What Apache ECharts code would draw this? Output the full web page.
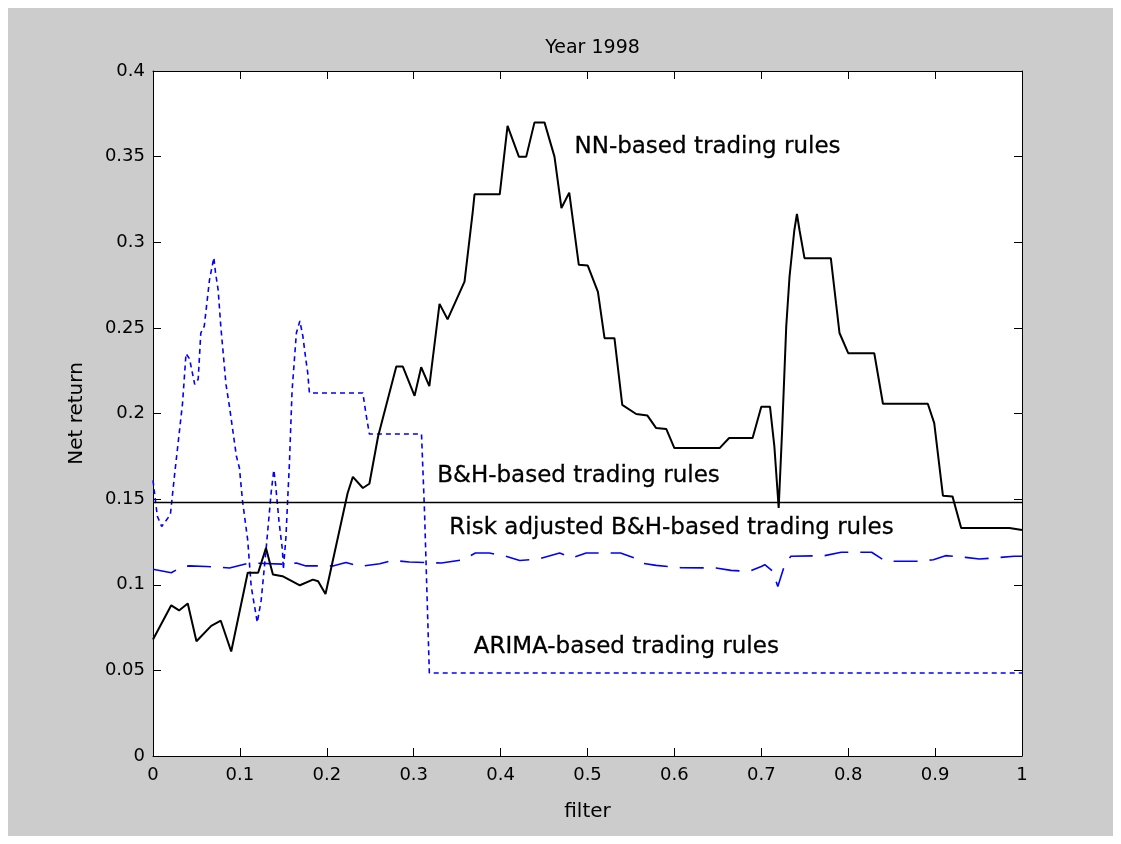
<!DOCTYPE html>
<html>
<head>
<meta charset="utf-8">
<title>Year 1998</title>
<script src="https://cdn.jsdelivr.net/npm/echarts@6/dist/echarts.min.js"></script>
<style>
  html, body { margin: 0; padding: 0; background: #ffffff; }
  #frame { position: absolute; left: 0; top: 0; width: 1121px; height: 844px; background: #ffffff; }
  #chart { position: absolute; left: 8px; top: 8px; width: 1105px; height: 828px; }
</style>
</head>
<body>
<div id="frame"><div id="chart"></div></div>
<script>
// Net return versus filter size, 1998
const xTicks = [0, 0.1, 0.2, 0.3, 0.4, 0.5, 0.6, 0.7, 0.8, 0.9, 1];
const yTicks = [0, 0.05, 0.1, 0.15, 0.2, 0.25, 0.3, 0.35, 0.4];

// NN-based trading rules [filter, net return]
const nnRule = [
  [0, 0.068], [0.021, 0.088], [0.03, 0.085], [0.04, 0.089], [0.05, 0.067],
  [0.067, 0.076], [0.078, 0.079], [0.09, 0.061], [0.109, 0.107], [0.121, 0.107],
  [0.13, 0.1215], [0.138, 0.106], [0.149, 0.105], [0.169, 0.0997], [0.184, 0.103],
  [0.19, 0.102], [0.1985, 0.0946], [0.224, 0.1536], [0.23, 0.163], [0.2415, 0.1565],
  [0.249, 0.159], [0.259, 0.1866], [0.28, 0.2274], [0.2875, 0.2274], [0.301, 0.2103],
  [0.3086, 0.227], [0.318, 0.216], [0.3297, 0.264], [0.339, 0.255], [0.3585, 0.277],
  [0.368, 0.318], [0.37, 0.328], [0.399, 0.328], [0.408, 0.368], [0.421, 0.35], [0.4295, 0.35],
  [0.439, 0.37], [0.4505, 0.37], [0.462, 0.35], [0.47, 0.32], [0.479, 0.329],
  [0.49, 0.2868], [0.5003, 0.2864], [0.512, 0.271], [0.5196, 0.244], [0.531, 0.244],
  [0.54, 0.205], [0.556, 0.1997], [0.569, 0.1988], [0.579, 0.1915], [0.5906, 0.191],
  [0.6, 0.1798], [0.652, 0.1798], [0.663, 0.1857], [0.69, 0.1857], [0.7, 0.204],
  [0.71, 0.204], [0.715, 0.181], [0.72, 0.1448], [0.724, 0.1905], [0.7287, 0.2508],
  [0.7325, 0.28], [0.738, 0.307], [0.741, 0.3165], [0.744, 0.307], [0.7497, 0.2907],
  [0.78, 0.2907], [0.786, 0.2644], [0.79, 0.247], [0.8, 0.2352], [0.83, 0.2352],
  [0.84, 0.2057], [0.8916, 0.2057], [0.899, 0.1944], [0.909, 0.152], [0.92, 0.1516],
  [0.93, 0.1331], [0.9856, 0.1331], [1, 0.132]
];

// B&H-based trading rules (constant)
const bhValue = 0.148;
const bhRule = [[0, bhValue], [1, bhValue]];

// Risk adjusted B&H-based trading rules
const riskAdjRule = [
  [0, 0.109], [0.021, 0.107], [0.034, 0.1107], [0.042, 0.111], [0.061, 0.1107],
  [0.088, 0.1098], [0.111, 0.1127], [0.15, 0.112], [0.165, 0.1127], [0.176, 0.111],
  [0.207, 0.111], [0.222, 0.113], [0.238, 0.1107], [0.261, 0.1123], [0.276, 0.1142],
  [0.295, 0.1133], [0.314, 0.113], [0.332, 0.1127], [0.357, 0.1146], [0.371, 0.1185],
  [0.387, 0.1185], [0.406, 0.1166], [0.422, 0.1142], [0.443, 0.115], [0.468, 0.1185],
  [0.482, 0.1156], [0.4985, 0.1185], [0.538, 0.1185], [0.554, 0.1156], [0.561, 0.1127],
  [0.579, 0.1113], [0.607, 0.11], [0.648, 0.1098], [0.665, 0.1084], [0.686, 0.1078],
  [0.7, 0.1107], [0.704, 0.1117], [0.713, 0.108], [0.719, 0.099], [0.727, 0.1117],
  [0.734, 0.1166], [0.773, 0.117], [0.792, 0.119], [0.827, 0.119], [0.843, 0.1137],
  [0.88, 0.1137], [0.898, 0.1146], [0.912, 0.117], [0.935, 0.116], [0.951, 0.115],
  [0.991, 0.1166], [1, 0.1166]
];

// ARIMA-based trading rules
const arimaRule = [
  [0, 0.161], [0.005, 0.14], [0.01, 0.134], [0.02, 0.141], [0.025, 0.165],
  [0.034, 0.206], [0.038, 0.235], [0.042, 0.232], [0.048, 0.217], [0.052, 0.22],
  [0.055, 0.247], [0.059, 0.251], [0.065, 0.278], [0.07, 0.291], [0.072, 0.282],
  [0.075, 0.272], [0.078, 0.251], [0.084, 0.217], [0.088, 0.204], [0.096, 0.175],
  [0.0995, 0.168], [0.103, 0.149], [0.109, 0.126], [0.113, 0.099], [0.12, 0.078],
  [0.1245, 0.091], [0.13, 0.12], [0.136, 0.154], [0.139, 0.167], [0.141, 0.159],
  [0.145, 0.137], [0.149, 0.12], [0.15, 0.109], [0.153, 0.128], [0.155, 0.15],
  [0.157, 0.171], [0.16, 0.213], [0.165, 0.247], [0.169, 0.254], [0.1725, 0.245],
  [0.176, 0.231], [0.178, 0.224], [0.18, 0.212], [0.2415, 0.212], [0.245, 0.2],
  [0.249, 0.188], [0.309, 0.188], [0.3125, 0.142], [0.318, 0.0485], [1, 0.0485]
];

// Curve annotations: [filter, net return, text]
const annotations = [
  [0.485, 0.3556, 'NN-based trading rules'],
  [0.327, 0.1637, 'B&H-based trading rules'],
  [0.341, 0.1333, 'Risk adjusted B&H-based trading rules'],
  [0.369, 0.0639, 'ARIMA-based trading rules']
];

const FONT = 'DejaVu Sans';
const chart = echarts.init(document.getElementById('chart'), null, { renderer: 'canvas' });

function fmtTick(v) {
  return String(Math.round(v * 100) / 100);
}

const axisCommon = {
  min: 0,
  axisLine: { show: true, onZero: false, lineStyle: { color: '#000', width: 1 } },
  axisTick: { show: true, inside: true, length: 8, lineStyle: { color: '#000', width: 1 } },
  splitLine: { show: false }
};

// plot area inside the chart element
const gridBox = { left: 145, right: 91, top: 63, bottom: 80 };
const chartWidth = 1105;

chart.setOption({
  backgroundColor: '#cccccc',
  animation: false,
  title: {
    text: 'Year 1998',
    left: gridBox.left + (chartWidth - gridBox.left - gridBox.right) / 2,
    textAlign: 'center',
    top: 26,
    textStyle: { fontFamily: FONT, fontSize: 19, fontWeight: 'normal', color: '#000' }
  },
  grid: Object.assign({ backgroundColor: '#ffffff', show: true, borderWidth: 0 }, gridBox),
  xAxis: [
    Object.assign({}, axisCommon, {
      type: 'value', position: 'bottom', max: 1, interval: 0.1,
      name: 'filter', nameLocation: 'middle', nameGap: 46,
      nameTextStyle: { fontFamily: FONT, fontSize: 20, color: '#000' },
      axisLabel: { show: true, margin: 10, fontFamily: FONT, fontSize: 18, color: '#000',
        formatter: v => xTicks.some(t => Math.abs(t - v) < 1e-9) ? fmtTick(v) : '' }
    }),
    Object.assign({}, axisCommon, {
      type: 'value', position: 'top', max: 1, interval: 0.1,
      axisLabel: { show: false }
    })
  ],
  yAxis: [
    Object.assign({}, axisCommon, {
      type: 'value', position: 'left', max: 0.4, interval: 0.05,
      name: 'Net return', nameLocation: 'middle', nameGap: 66, nameRotate: 90,
      nameTextStyle: { fontFamily: FONT, fontSize: 20, color: '#000' },
      axisLabel: { show: true, margin: 8, fontFamily: FONT, fontSize: 18, color: '#000',
        formatter: v => yTicks.some(t => Math.abs(t - v) < 1e-9) ? fmtTick(v) : '' }
    }),
    Object.assign({}, axisCommon, {
      type: 'value', position: 'right', max: 0.4, interval: 0.05,
      axisLabel: { show: false }
    })
  ],
  series: [
    {
      name: 'ARIMA-based trading rules', type: 'line', data: arimaRule,
      showSymbol: false, symbol: 'none',
      lineStyle: { color: '#0000ff', width: 1.6, type: [5, 4] }, z: 2
    },
    {
      name: 'Risk adjusted B&H-based trading rules', type: 'line', data: riskAdjRule,
      showSymbol: false, symbol: 'none',
      lineStyle: { color: '#0000ff', width: 1.6, type: [24, 12] }, z: 2
    },
    {
      name: 'B&H-based trading rules', type: 'line', data: bhRule,
      showSymbol: false, symbol: 'none',
      lineStyle: { color: '#000000', width: 1.6 }, z: 3
    },
    {
      name: 'NN-based trading rules', type: 'line', data: nnRule,
      showSymbol: false, symbol: 'none',
      lineStyle: { color: '#000000', width: 2 }, z: 4
    },
    {
      name: 'annotations', type: 'scatter', symbolSize: 0, silent: true, z: 5,
      itemStyle: { opacity: 1, color: '#000000' },
      data: annotations.map(a => ({ value: [a[0], a[1]], name: a[2] })),
      label: {
        show: true, position: 'right', distance: 0, formatter: p => p.name,
        fontFamily: FONT, fontSize: 23, color: '#000000', opacity: 1,
        textBorderColor: '#000000', textBorderWidth: 0.3,
        align: 'left', verticalAlign: 'middle'
      }
    }
  ]
});
</script>
</body>
</html>
